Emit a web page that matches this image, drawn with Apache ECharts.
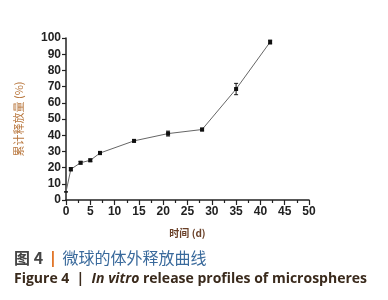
<!DOCTYPE html>
<html>
<head>
<meta charset="utf-8">
<script src="https://cdn.jsdelivr.net/npm/echarts@6/dist/echarts.min.js"></script>
<style>
html,body{margin:0;padding:0;background:#fff;}
#chart{width:388px;height:300px;}
</style>
</head>
<body>
<div id="chart"></div>
<script>
// 数据：时间(d) 与累计释放量(%)
var days = [0, 1, 3, 5, 7, 14, 21, 28, 35, 42];
var release = [5, 19, 23, 24.5, 29, 36.5, 41, 43.5, 68.5, 97.5];
var errors = [0, 1, 0.8, 0.8, 1, 0.8, 1.5, 0.8, 3.5, 1.2];
var xTicks = [0, 5, 10, 15, 20, 25, 30, 35, 40, 45, 50];
var yTicks = [0, 10, 20, 30, 40, 50, 60, 70, 80, 90, 100];

var myChart = echarts.init(document.getElementById('chart'));

var lineData = [];
var errData = [];
for (var i = 0; i < days.length; i++) {
	//第一个点不画标记
	lineData.push({value: [days[i], release[i]], symbolSize: i == 0 ? 0 : 4});
	errData.push([days[i], release[i] - errors[i], release[i] + errors[i]]);
}

var labelFont = {color: '#222', fontSize: 12, fontWeight: 'bold', fontFamily: 'Liberation Sans, Arial'};

var option = {
	backgroundColor: '#fff',
	animation: false,
	grid: {left: 66, right: 79, top: 38, bottom: 100},
	xAxis: {
		type: 'value',
		min: xTicks[0], max: xTicks[xTicks.length - 1], interval: 5,
		name: '时间 (d)', nameLocation: 'middle', nameGap: 28,
		nameTextStyle: {color: '#6a4028', fontSize: 10, fontWeight: 'bold', fontFamily: 'Noto Sans CJK SC'},
		axisLine: {lineStyle: {color: '#222', width: 1.5}},
		axisTick: {inside: false, length: 5, lineStyle: {color: '#222', width: 1.2}},
		minorTick: {show: true, splitNumber: 2, length: 3, lineStyle: {color: '#222', width: 1.2}},
		axisLabel: Object.assign({margin: 6}, labelFont),
		splitLine: {show: false}
	},
	yAxis: {
		type: 'value',
		min: yTicks[0], max: yTicks[yTicks.length - 1], interval: 10,
		name: '累计释放量 (%)', nameLocation: 'middle', nameGap: 42, nameRotate: 90,
		nameTextStyle: {color: '#b8763c', fontSize: 11, fontFamily: 'Noto Sans CJK SC'},
		axisLine: {show: true, lineStyle: {color: '#222', width: 1.5}},
		axisTick: {show: true, length: 4, lineStyle: {color: '#222', width: 1.2}},
		axisLabel: Object.assign({margin: 5}, labelFont),
		splitLine: {show: false}
	},
	series: [
		{
			type: 'line',
			data: lineData,
			symbol: 'rect',
			symbolSize: 4,
			itemStyle: {color: '#111'},
			lineStyle: {color: '#666', width: 1},
			z: 3
		},
		{
			type: 'custom',
			data: errData,
			renderItem: function(params, api) {
				var x = api.value(0);
				var lo = api.coord([x, api.value(1)]);
				var hi = api.coord([x, api.value(2)]);
				var w = 2;
				return {
					type: 'group',
					children: [
						{type: 'line', shape: {x1: lo[0], y1: lo[1], x2: hi[0], y2: hi[1]}, style: {stroke: '#111', lineWidth: 1}},
						{type: 'line', shape: {x1: lo[0] - w, y1: lo[1], x2: lo[0] + w, y2: lo[1]}, style: {stroke: '#111', lineWidth: 1}},
						{type: 'line', shape: {x1: hi[0] - w, y1: hi[1], x2: hi[0] + w, y2: hi[1]}, style: {stroke: '#111', lineWidth: 1}}
					]
				};
			},
			z: 4
		}
	],
	graphic: [
		{
			type: 'text', left: 14, top: 250,
			style: {
				text: '{a|图 4} {b||} {c|微球的体外释放曲线}',
				rich: {
					a: {fill: '#444', fontSize: 16, fontWeight: 'bold', fontFamily: 'Noto Sans CJK SC'},
					b: {fill: '#e07020', fontSize: 16, fontWeight: 'bold', fontFamily: 'Noto Sans', padding: [0, 2, 0, 2]},
					c: {fill: '#3a6a9c', fontSize: 16, fontFamily: 'Noto Sans CJK SC'}
				}
			}
		},
		{
			type: 'text', left: 14, top: 272,
			style: {
				text: '{a|Figure 4  |  }{b|In vitro}{a| release profiles of microspheres}',
				rich: {
					a: {fill: '#3a2a1c', fontSize: 14, fontWeight: 'bold', fontFamily: 'Open Sans'},
					b: {fill: '#3a2a1c', fontSize: 14, fontWeight: 'bold', fontStyle: 'italic', fontFamily: 'Open Sans'}
				}
			}
		}
	]
};
myChart.setOption(option);
</script>
</body>
</html>
